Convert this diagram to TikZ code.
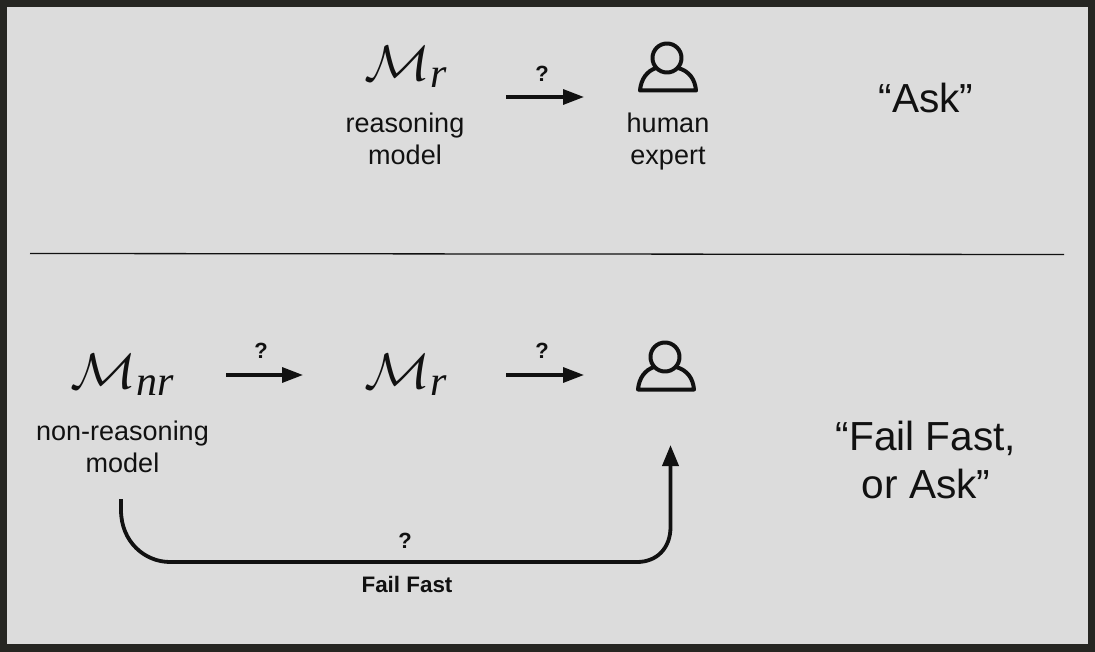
\documentclass[tikz,border=0pt]{standalone}
\usepackage{fontspec}
\usepackage{graphicx}
\setmainfont{Liberation Sans}
\newfontfamily\subfam{Liberation Serif}
\usetikzlibrary{arrows.meta}
\definecolor{framecol}{HTML}{262622}
\definecolor{panelcol}{HTML}{DCDCDC}
\definecolor{inkcol}{HTML}{111111}
\newcommand{\fsz}[1]{\fontsize{#1}{#1}\selectfont}
\newcommand{\modelmark}[1]{\scalebox{5.5}[5.0]{$\mathcal{M}$}\raisebox{-7pt}{\fsz{42}\subfam\itshape #1}}
\tikzset{
  x=1pt,y=-1pt,
  every node/.style={inner sep=0pt,outer sep=0pt,text=inkcol,align=center},
  caption/.style={font=\fsz{27}},
  qmark/.style={font=\fsz{22}\bfseries},
  slogan/.style={font=\fsz{40.6}},
  arr/.style={draw=inkcol,line width=3.3pt,-{Triangle[length=21pt,width=15pt]}},
  ffarr/.style={draw=inkcol,line width=3.8pt,-{Triangle[length=21pt,width=16pt]}},
  iconbox/.style={minimum width=60pt,minimum height=48pt},
  iconline/.style={draw=inkcol,line width=4pt,line join=round,line cap=round},
}
\newcommand{\person}[1]{%
  \draw[iconline] ([shift={(-1,-9)}]#1.center) circle[radius=14.5];
  \draw[iconline] ([shift={(-12,1)}]#1.center)
     .. controls ([shift={(-21,4)}]#1.center) and ([shift={(-27,12)}]#1.center) .. ([shift={(-28,23.5)}]#1.center)
     -- ([shift={(28,23.5)}]#1.center)
     .. controls ([shift={(27,12)}]#1.center) and ([shift={(21,4)}]#1.center) .. ([shift={(10,1)}]#1.center);
}
\begin{document}
\begin{tikzpicture}
\useasboundingbox (0,0) rectangle (1095,652);
\fill[framecol] (0,0) rectangle (1095,652);
\fill[panelcol] (7,7) rectangle (1088,644);
% top row
\node (m1) at (406,67) {\modelmark{r}};
\node[caption] (m1c) at (405,139) {reasoning\\[5pt]model};
\node[iconbox] (h1) at (668,67) {};
\person{h1}
\node[caption] (h1c) at (668,142) {human\\[5pt]expert};
\node[qmark] (q1) at (542,74) {?};
\draw[arr] ([shift={(100,30)}]m1.center) -- ([shift={(-84,30)}]h1.center);
\node[slogan] (ask) at (926,98) {“Ask”};
% divider
\coordinate (dl) at (30,253.5);
\coordinate (dr) at (1064,254.5);
\draw[draw=inkcol,line width=1.3pt] (dl) -- (dr);
% bottom row
\node (m2) at (122,375) {\modelmark{nr}};
\node[caption] (m2c) at (122.5,447) {non-reasoning\\[5pt]model};
\node (m3) at (406,375) {\modelmark{r}};
\node[iconbox] (h2) at (666,366) {};
\person{h2}
\node[qmark] (q2) at (261,351) {?};
\node[qmark] (q3) at (542,351) {?};
\draw[arr] ([shift={(104,0)}]m2.center) -- ([shift={(-103,0)}]m3.center);
\draw[arr] ([shift={(100,0)}]m3.center) -- ([shift={(-82,9)}]h2.center);
\node[slogan] (ff) at (926,460) {“Fail Fast,\\[7pt]or Ask”};
% fail fast connector
\draw[ffarr] ([shift={(-1,124)}]m2.center) -- (121,510)
  .. controls (121,542) and (145,562) .. (170,562)
  -- (637,562)
  .. controls (657,562) and (670.5,548) .. (670.5,527)
  -- ([shift={(4.5,79)}]h2.center);
\node[qmark] (q4) at (405,541) {?};
\node[font=\fsz{22.4}\bfseries] (fflab) at (407,584) {Fail Fast};
\end{tikzpicture}
\end{document}
